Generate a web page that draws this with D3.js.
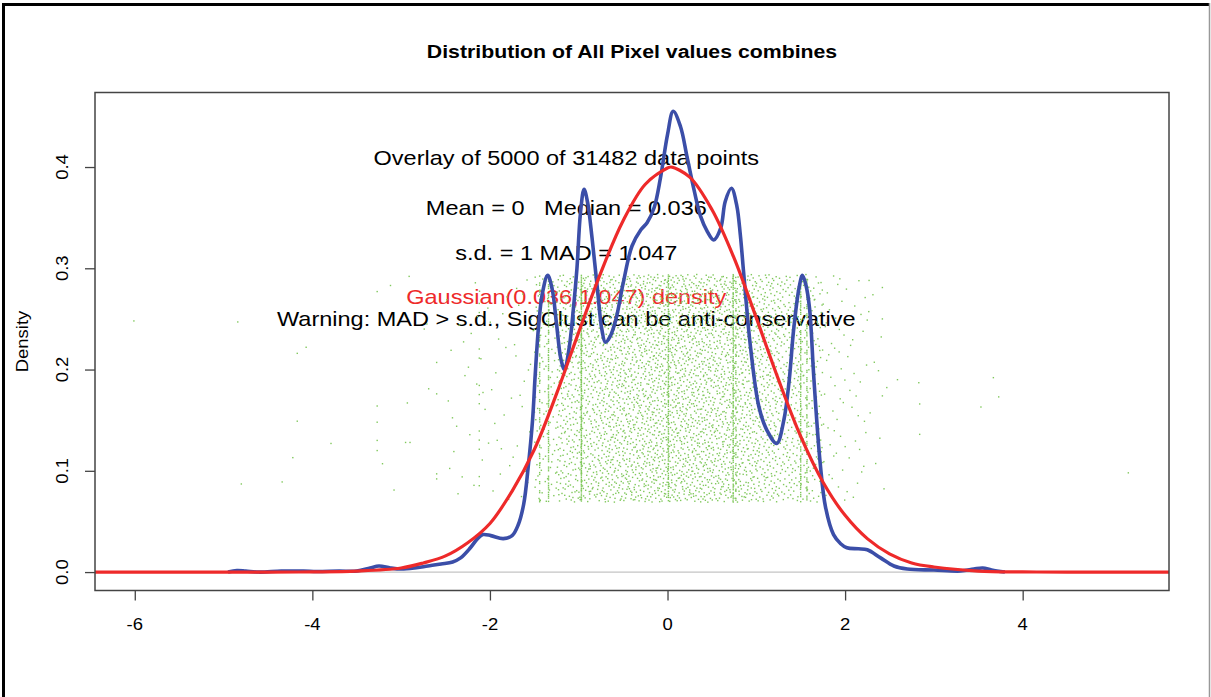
<!DOCTYPE html>
<html>
<head>
<meta charset="utf-8">
<script src="https://cdn.jsdelivr.net/npm/d3@7"></script>
<style>
  html, body { margin: 0; padding: 0; background: #fff; }
  svg text { font-family: "Liberation Sans", Arial, sans-serif; white-space: pre; }
</style>
</head>
<body>
<svg id="chart" width="1211" height="697"></svg>
<script>
// ---------------- data ----------------
const title = "Distribution of All Pixel values combines";
const yLabel = "Density";
const xTicks = [-6, -4, -2, 0, 2, 4];
const xTickLabels = ["-6", "-4", "-2", "0", "2", "4"];
const yTicks = [0, 0.1, 0.2, 0.3, 0.4];
const yTickLabels = ["0.0", "0.1", "0.2", "0.3", "0.4"];
const annotLines = [
  "Overlay of 5000 of 31482 data points",
  "Mean = 0   Median = 0.036",
  "s.d. = 1 MAD = 1.047",
  "Gaussian(0.036,1.047) density",
  "Warning: MAD > s.d., SigClust can be anti-conservative"
];

// kernel density estimate (blue)
const blueX = [-4.95,-4.85,-4.75,-4.6,-4.35,-4.1,-3.95,-3.7,-3.5,-3.35,-3.25,-3.12,-3.0,-2.85,-2.7,-2.55,-2.42,-2.33,-2.22,-2.14,-2.08,-1.99,-1.85,-1.75,-1.68,-1.62,-1.57,-1.52,-1.49,-1.45,-1.41,-1.35,-1.3,-1.25,-1.2,-1.16,-1.11,-1.06,-1.02,-0.98,-0.94,-0.9,-0.85,-0.79,-0.74,-0.7,-0.65,-0.58,-0.5,-0.4,-0.3,-0.23,-0.15,-0.08,0.0,0.064,0.146,0.22,0.3,0.37,0.45,0.52,0.6,0.65,0.72,0.78,0.82,0.86,0.935,1.03,1.12,1.23,1.31,1.37,1.42,1.48,1.52,1.56,1.6,1.65,1.72,1.78,1.87,1.95,2.02,2.15,2.25,2.4,2.55,2.7,3.0,3.3,3.45,3.55,3.65,3.8];
const blueY = [0,0.0015,0.001,0,0.001,0.001,0.0005,0.001,0.001,0.004,0.006,0.004,0.003,0.004,0.006,0.008,0.01,0.014,0.024,0.033,0.037,0.036,0.033,0.036,0.047,0.067,0.103,0.15,0.195,0.245,0.275,0.293,0.28,0.245,0.21,0.2,0.22,0.26,0.3,0.355,0.378,0.365,0.33,0.28,0.24,0.227,0.232,0.25,0.285,0.322,0.338,0.345,0.36,0.389,0.432,0.455,0.44,0.41,0.377,0.352,0.336,0.328,0.34,0.366,0.379,0.362,0.333,0.293,0.222,0.163,0.14,0.127,0.15,0.189,0.239,0.28,0.293,0.283,0.26,0.189,0.107,0.064,0.037,0.028,0.024,0.023,0.022,0.014,0.006,0.003,0.002,0.001,0.003,0.004,0.002,0];

// Gaussian overlay (red)
const redX = [-6.45,-4.5,-4.0,-3.5,-3.0,-2.75,-2.5,-2.25,-2.0,-1.75,-1.5,-1.25,-1.0,-0.75,-0.5,-0.25,0.0,0.04,0.25,0.5,0.75,1.0,1.25,1.5,1.75,2.0,2.25,2.5,2.75,3.0,3.5,4.0,4.5,5.65];
const redY = [0,0,0.0002,0.001,0.004,0.009,0.016,0.029,0.048,0.08,0.121,0.176,0.237,0.296,0.347,0.383,0.399,0.4,0.39,0.358,0.31,0.251,0.19,0.134,0.089,0.056,0.033,0.018,0.009,0.005,0.001,0.0002,0,0];

// overlay points: counts per x-bin (width 0.25) in the dense band
const binStart = [-2.5,-2.25,-2.0,-1.75,-1.5,-1.25,-1.0,-0.75,-0.5,-0.25,0.0,0.25,0.5,0.75,1.0,1.25,1.5,1.75,2.0,2.25];
const binCount = [12,14,16,20,100,250,300,330,350,370,370,360,340,310,270,220,140,40,28,10];
// heavily tied values (vertical streaks)
const tieX = [-2.12,-1.44,-1.34,-0.97,0.01,0.74,0.77,1.5,1.57];
const tieCount = [12,60,90,160,100,110,50,90,70];
// isolated points outside the dense band
const sparseX = [-6.01,-4.84,-4.80,-4.34,-4.22,-4.17,-4.17,-4.07,-3.79,-3.27,-3.27,-3.27,-3.27,-3.27,-3.21,-3.12,-3.08,-2.95,-2.93,-2.91,-2.9,-2.74,-2.71,-2.69,-2.6,-2.6,-2.6,-2.6,2.59,2.83,2.84,2.84,3.53,3.67,3.73,5.19,2.42,2.42,2.42,2.27];
const sparseY = [0.248,0.247,0.087,0.089,0.113,0.149,0.216,0.222,0.127,0.164,0.148,0.13,0.12,0.277,0.107,0.283,0.081,0.128,0.167,0.292,0.128,0.24,0.245,0.181,0.176,0.097,0.092,0.207,0.19,0.187,0.166,0.136,0.163,0.192,0.173,0.098,0.281,0.25,0.174,0.288];
const jitterLo = 0.069, jitterHi = 0.294;

// ---------------- layout ----------------
const svg = d3.select("#chart");
const L = 95, R = 1169, T = 92.5, B = 590.5;
const SX = 1.12; // horizontal stretch of the original raster

const x = d3.scaleLinear().domain([-6.448, 5.648]).range([L, R]);
const y = d3.scaleLinear().domain([-0.0182, 0.4736]).range([B, T]);

function stretchedText(g, tx, ty, str, size, opts = {}) {
  return g.append("text")
    .attr("transform", `translate(${tx},${ty}) scale(${opts.rot ? 1 : SX},${opts.rot ? SX : 1})${opts.rot ? " rotate(-90)" : ""}`)
    .attr("text-anchor", "middle")
    .attr("dominant-baseline", "central")
    .attr("xml:space", "preserve")
    .style("font-size", size + "px")
    .style("fill", opts.color || "#000")
    .style("font-weight", opts.bold ? "bold" : "normal")
    .text(str);
}

// outer frame
svg.append("rect").attr("x", 0).attr("y", 0).attr("width", 1211).attr("height", 697).attr("fill", "#fff");
svg.append("line").attr("x1", 2).attr("x2", 1210).attr("y1", 4.5).attr("y2", 4.5).attr("stroke", "#000").attr("stroke-width", 3);
svg.append("line").attr("x1", 3.5).attr("x2", 3.5).attr("y1", 3).attr("y2", 697).attr("stroke", "#000").attr("stroke-width", 3);
svg.append("line").attr("x1", 1209.5).attr("x2", 1209.5).attr("y1", 3).attr("y2", 697).attr("stroke", "#999").attr("stroke-width", 1.5);

// title
stretchedText(svg, (L + R) / 2, 51, title, 19, { bold: true });

// zero reference line
svg.append("line").attr("x1", L).attr("x2", R).attr("y1", y(0)).attr("y2", y(0))
  .attr("stroke", "#c4c4c4").attr("stroke-width", 1.2);

// annotation text
const annotY = [0.409, 0.360, 0.315, 0.272, 0.250];
const annotColor = ["#000", "#000", "#000", "#ee2a2a", "#000"];
annotLines.forEach((s, i) => stretchedText(svg, x(-1.14), y(annotY[i]), s, 21, { color: annotColor[i] }));

// overlay points
function halton(i, b) { let f = 1, r = 0; while (i > 0) { f /= b; r += f * (i % b); i = Math.floor(i / b); } return r; }
const pts = [];
let idx = 1;
binStart.forEach((s, k) => {
  for (let j = 0; j < binCount[k]; j++, idx++) {
    pts.push({ v: s + 0.25 * halton(idx, 2), j: jitterLo + (jitterHi - jitterLo) * halton(idx, 3) });
  }
});
tieX.forEach((v, k) => {
  for (let j = 0; j < tieCount[k]; j++, idx++) {
    pts.push({ v: v, j: jitterLo + (jitterHi - jitterLo) * halton(idx, 5) });
  }
});
sparseX.forEach((v, k) => pts.push({ v: v, j: sparseY[k] }));

svg.append("g").selectAll("rect").data(pts).join("rect")
  .attr("x", d => x(d.v) - 0.7).attr("y", d => y(d.j) - 0.7)
  .attr("width", 1.4).attr("height", 1.4)
  .attr("fill", "#80c85c");

// curves
const line = d3.line().curve(d3.curveCatmullRom.alpha(0.5));
svg.append("clipPath").attr("id", "pc").append("rect")
  .attr("x", L).attr("y", T).attr("width", R - L).attr("height", B - T);
svg.append("path").attr("clip-path", "url(#pc)")
  .attr("d", line(blueX.map((v, i) => [x(v), y(blueY[i])])))
  .attr("fill", "none").attr("stroke", "#3b4ea8").attr("stroke-width", 3.6)
  .attr("stroke-linejoin", "round");
svg.append("path").attr("clip-path", "url(#pc)")
  .attr("d", line(redX.map((v, i) => [x(v), y(redY[i])])))
  .attr("fill", "none").attr("stroke", "#ee2a2a").attr("stroke-width", 3.2)
  .attr("stroke-linejoin", "round");

// axes
const xAxis = svg.append("g").attr("transform", `translate(0,${B})`)
  .call(d3.axisBottom(x).tickValues(xTicks).tickFormat(() => "").tickSize(10).tickSizeOuter(0));
const yAxis = svg.append("g").attr("transform", `translate(${L},0)`)
  .call(d3.axisLeft(y).tickValues(yTicks).tickFormat(() => "").tickSize(10).tickSizeOuter(0));
[xAxis, yAxis].forEach(a => {
  a.select(".domain").remove();
  a.selectAll(".tick line").attr("stroke", "#444").attr("stroke-width", 1.3);
});
xTicks.forEach((v, i) => stretchedText(svg, x(v), 624, xTickLabels[i], 16.5));
yTicks.forEach((v, i) => stretchedText(svg, 62, y(v), yTickLabels[i], 16.5, { rot: true }));
stretchedText(svg, 22, (T + B) / 2, yLabel, 16.5, { rot: true });

// plot box
svg.append("rect").attr("x", L).attr("y", T).attr("width", R - L).attr("height", B - T)
  .attr("fill", "none").attr("stroke", "#444").attr("stroke-width", 1.5);
</script>
</body>
</html>
